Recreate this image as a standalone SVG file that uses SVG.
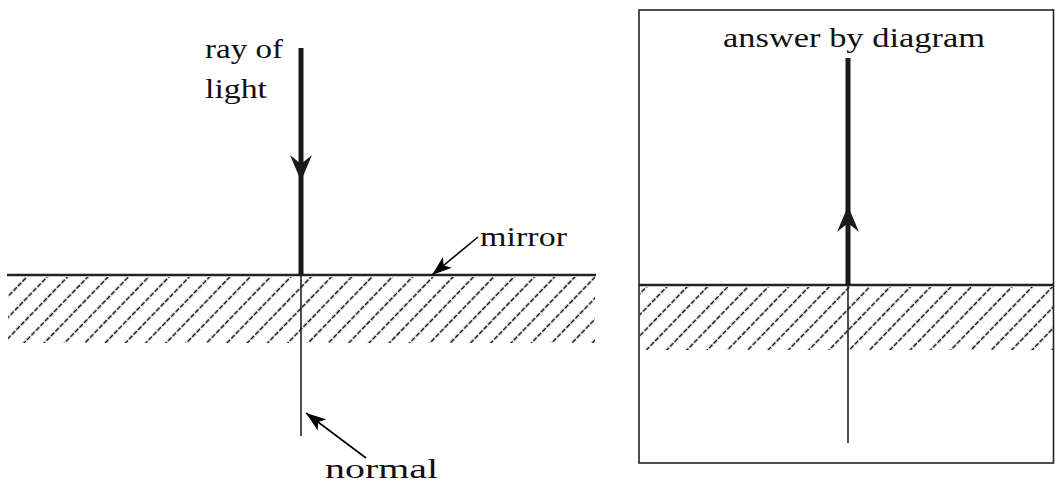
<svg xmlns="http://www.w3.org/2000/svg" width="1055" height="485" viewBox="0 0 1055 485">
  <defs>
    <pattern id="hatch" patternUnits="userSpaceOnUse" width="14.6" height="6.5" patternTransform="rotate(44)">
      <line x1="7.3" y1="0" x2="7.3" y2="5" stroke="#000" stroke-width="1.5"/>
    </pattern>
    <marker id="thinArrow" markerUnits="userSpaceOnUse" markerWidth="22" markerHeight="14" refX="20" refY="7" orient="auto">
      <path d="M0,0 L20,7 L0,14 L5,7 Z" fill="#000"/>
    </marker>
  </defs>
  <style>
    .lbl { font-family: "Liberation Serif", "Times New Roman", serif; font-size: 28px; fill: #111; }
    .mirror { stroke: #222; stroke-width: 2.6; }
    .ray { stroke: #1a1a1a; stroke-width: 5; }
    .normal { stroke: #222; stroke-width: 1.6; }
    .pointer { stroke: #000; stroke-width: 1.6; fill: none; }
    .head { fill: #1a1a1a; }
  </style>

  <g id="left-mirror">
    <rect x="8" y="277" width="587" height="66" fill="url(#hatch)"/>
    <line class="mirror" x1="7" y1="275" x2="596" y2="275"/>
  </g>

  <g id="right-panel">
    <rect x="639" y="10" width="414.5" height="453" fill="none" stroke="#222" stroke-width="1.6"/>
    <rect x="640" y="287" width="413" height="63" fill="url(#hatch)"/>
    <line class="mirror" x1="639" y1="285" x2="1054" y2="285"/>
  </g>

  <g id="connectors">
    <!-- left incident ray -->
    <line class="ray" x1="301" y1="48" x2="301" y2="276"/>
    <path class="head" d="M290,155 L301,181 L312,155 L301,164 Z"/>
    <!-- left normal -->
    <line class="normal" x1="301" y1="275" x2="301" y2="436"/>
    <!-- right reflected ray -->
    <line class="ray" x1="848" y1="58" x2="848" y2="286"/>
    <path class="head" d="M837,232 L848,206 L859,232 L848,223 Z"/>
    <!-- right normal -->
    <line class="normal" x1="848" y1="285" x2="848" y2="443"/>
    <!-- label pointers -->
    <line class="pointer" x1="478" y1="237" x2="432" y2="275" marker-end="url(#thinArrow)"/>
    <line class="pointer" x1="366" y1="458" x2="306" y2="413" marker-end="url(#thinArrow)"/>
  </g>

  <g id="label-ray">
    <text class="lbl" x="205" y="58" textLength="78" lengthAdjust="spacingAndGlyphs">ray of</text>
    <text class="lbl" x="205" y="98" textLength="62" lengthAdjust="spacingAndGlyphs">light</text>
  </g>
  <g id="label-mirror">
    <text class="lbl" x="480" y="246" textLength="87" lengthAdjust="spacingAndGlyphs">mirror</text>
  </g>
  <g id="label-normal">
    <text class="lbl" x="325" y="478" textLength="113" lengthAdjust="spacingAndGlyphs">normal</text>
  </g>
  <g id="label-answer">
    <text class="lbl" x="723" y="47" textLength="262" lengthAdjust="spacingAndGlyphs">answer by diagram</text>
  </g>
</svg>
